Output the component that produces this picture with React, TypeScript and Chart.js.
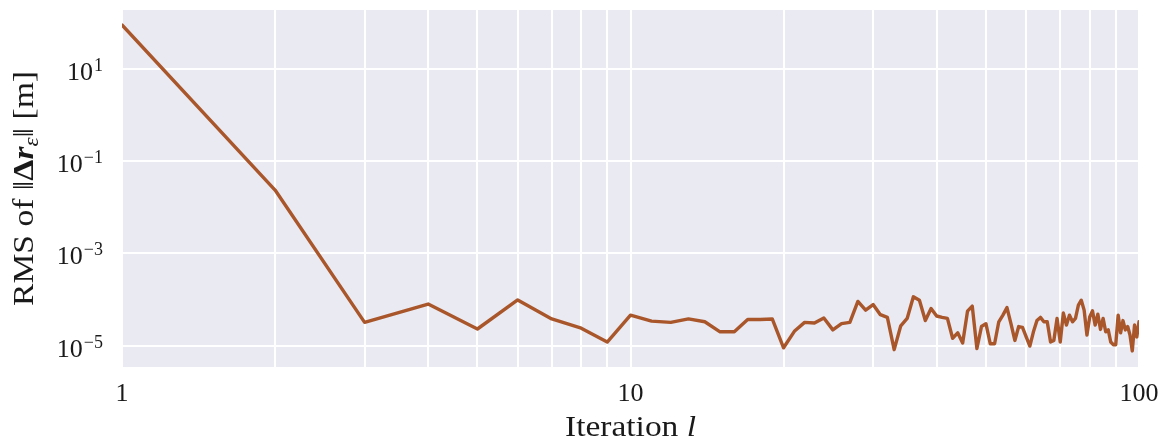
import { useEffect, useRef } from 'react';
import { Chart, registerables } from 'chart.js';

Chart.register(...registerables);

// Iteration index l (x axis)
const iterations = [
  1, 2, 3, 4, 5, 6, 7, 8, 9, 10,
  11, 12, 13, 14, 15, 16, 17, 18, 19, 20,
  21, 22, 23, 24, 25, 26, 27, 28, 29, 30,
  31, 32, 33, 34, 35, 36, 37, 38, 39, 40,
  41, 42, 43, 44, 45, 46, 47, 48, 49, 50,
  51, 52, 53, 54, 55, 56, 57, 58, 59, 60,
  61, 62, 63, 64, 65, 66, 67, 68, 69, 70,
  71, 72, 73, 74, 75, 76, 77, 78, 79, 80,
  81, 82, 83, 84, 85, 86, 87, 88, 89, 90,
  91, 92, 93, 94, 95, 96, 97, 98, 99, 100,
];

// RMS of ||Δr_ε|| [m]
const rmsError = [
  90, 0.0237, 3.2e-5, 8.0e-5, 2.3e-5, 9.8e-5, 3.8e-5, 2.4e-5, 1.2e-5, 4.6e-5,
  3.4e-5, 3.2e-5, 3.8e-5, 3.3e-5, 2.0e-5, 2.0e-5, 3.7e-5, 3.7e-5, 3.8e-5, 9.0e-6,
  2.05e-5, 3.2e-5, 3.1e-5, 4.0e-5, 2.2e-5, 3.0e-5, 3.2e-5, 9.1e-5, 5.9e-5, 7.8e-5,
  4.7e-5, 4.1e-5, 8.2e-6, 2.7e-5, 3.9e-5, 1.15e-4, 9.7e-5, 3.5e-5, 6.4e-5, 4.4e-5,
  4.1e-5, 3.9e-5, 1.45e-5, 1.9e-5, 1.15e-5, 5.6e-5, 7.2e-5, 8.7e-6, 2.6e-5, 3.0e-5,
  1.1e-5, 1.1e-5, 3.3e-5, 4.6e-5, 6.7e-5, 3.0e-5, 1.3e-5, 2.6e-5, 2.5e-5, 1.55e-5,
  9.8e-6, 2.0e-5, 3.5e-5, 4.1e-5, 3.3e-5, 3.3e-5, 1.2e-5, 1.3e-5, 3.9e-5, 1.2e-5,
  5.1e-5, 2.8e-5, 4.6e-5, 3.3e-5, 3.9e-5, 7.6e-5, 9.7e-5, 5.9e-5, 1.7e-5, 4.2e-5,
  5.7e-5, 2.8e-5, 4.8e-5, 2.25e-5, 3.9e-5, 2.0e-5, 2.2e-5, 1.2e-5, 1.05e-5, 1.05e-5,
  4.6e-5, 1.9e-5, 3.5e-5, 2.2e-5, 2.6e-5, 1.7e-5, 7.7e-6, 2.8e-5, 1.55e-5, 3.3e-5,
];

// Axis ticks
const xTickValues = [1, 2, 3, 4, 5, 6, 7, 8, 9, 10, 20, 30, 40, 50, 60, 70, 80, 90, 100];
const xLabelValues = [1, 10, 100];
const xLabelTexts = ['1', '10', '100'];
const yTickValues = [1e-5, 1e-3, 1e-1, 1e1];
const yTickBase = '10';
const yTickExponents = ['\u22125', '\u22123', '\u22121', '1'];
const xRange = [1, 100];
const yRange = [3.45e-6, 190];

const xTitleParts = ['Iteration ', 'l'];
const yTitleParts = ['RMS of \u2016', '\u0394', 'r', '\u03b5', '\u2016 [m]'];

const SERIF = "'Liberation Serif', 'DejaVu Serif', serif";
const TEXT = '#1a1a1a';

function drawParts(ctx: any, parts: string[], styles: { f: string; dy: number }[], cx: number, targetWidth: number) {
  let total = 0;
  const widths = parts.map((t, i) => {
    ctx.font = styles[i].f;
    const w = ctx.measureText(t).width;
    total += w;
    return w;
  });
  const k = targetWidth / total;
  ctx.save();
  ctx.translate(cx, 0);
  ctx.scale(k, 1);
  let px = -total / 2;
  parts.forEach((t, i) => {
    ctx.font = styles[i].f;
    ctx.fillText(t, px, styles[i].dy);
    px += widths[i];
  });
  ctx.restore();
}

const decorPlugin = {
  id: 'decor',
  beforeDraw(chart: any) {
    const { ctx, chartArea: a } = chart;
    ctx.save();
    ctx.fillStyle = '#eaeaf2';
    ctx.fillRect(a.left, a.top, a.right - a.left, a.bottom - a.top);
    ctx.restore();
  },
  afterDraw(chart: any) {
    const { ctx, chartArea: a } = chart;
    const ys = chart.scales.y;
    ctx.save();
    ctx.fillStyle = TEXT;
    ctx.textBaseline = 'alphabetic';
    ctx.textAlign = 'left';

    // y tick labels with superscript exponents
    const right = a.left - 19;
    yTickValues.forEach((v, i) => {
      const py = ys.getPixelForValue(v);
      ctx.textAlign = 'right';
      ctx.font = `18px ${SERIF}`;
      const ew = ctx.measureText(yTickExponents[i]).width;
      ctx.fillText(yTickExponents[i], right, py + 2);
      ctx.font = `26px ${SERIF}`;
      ctx.fillText(yTickBase, right - ew - 1, py + 11);
    });
    ctx.textAlign = 'left';

    // x title
    ctx.save();
    ctx.translate(0, 436);
    drawParts(
      ctx,
      xTitleParts,
      [
        { f: `29px ${SERIF}`, dy: 0 },
        { f: `italic 29px ${SERIF}`, dy: 0 },
      ],
      (a.left + a.right) / 2,
      131
    );
    ctx.restore();

    // y title (rotated)
    ctx.save();
    ctx.translate(33, 0);
    ctx.rotate(-Math.PI / 2);
    drawParts(
      ctx,
      yTitleParts,
      [
        { f: `29px ${SERIF}`, dy: 0 },
        { f: `bold 29px ${SERIF}`, dy: 0 },
        { f: `italic bold 29px ${SERIF}`, dy: 0 },
        { f: `italic 20px ${SERIF}`, dy: 5 },
        { f: `29px ${SERIF}`, dy: 0 },
      ],
      -(a.top + a.bottom) / 2,
      235
    );
    ctx.restore();
    ctx.restore();
  },
};

export default function App() {
  const ref = useRef<HTMLCanvasElement | null>(null);

  useEffect(() => {
    if (!ref.current) return;
    const chart = new Chart(ref.current, {
      type: 'line',
      data: {
        datasets: [
          {
            data: iterations.map((x, i) => ({ x, y: rmsError[i] })),
            borderColor: '#a9562b',
            borderWidth: 3.4,
            borderJoinStyle: 'round',
            borderCapStyle: 'round',
            pointRadius: 0,
            tension: 0,
            fill: false,
          },
        ],
      },
      options: {
        animation: false,
        responsive: true,
        maintainAspectRatio: false,
        layout: { padding: { top: 10, right: 28, left: 0, bottom: 0 } },
        plugins: { legend: { display: false }, tooltip: { enabled: false } },
        scales: {
          x: {
            type: 'logarithmic',
            min: xRange[0],
            max: xRange[1],
            afterBuildTicks: (scale: any) => {
              scale.ticks = xTickValues.map((v) => ({ value: v }));
            },
            afterFit: (scale: any) => {
              scale.height = 72;
              scale.paddingRight = 0;
              scale.paddingLeft = 0;
            },
            ticks: {
              autoSkip: false,
              maxRotation: 0,
              padding: 12,
              color: TEXT,
              font: { family: SERIF, size: 26 },
              callback: (v: any) => {
                const k = xLabelValues.indexOf(Number(v));
                return k >= 0 ? xLabelTexts[k] : '';
              },
            },
            grid: { color: '#ffffff', lineWidth: 2, drawTicks: false },
            border: { display: false },
          },
          y: {
            type: 'logarithmic',
            min: yRange[0],
            max: yRange[1],
            afterBuildTicks: (scale: any) => {
              scale.ticks = yTickValues.map((v) => ({ value: v }));
            },
            afterFit: (scale: any) => {
              scale.width = 122;
              scale.paddingTop = 0;
              scale.paddingBottom = 0;
            },
            ticks: { display: false },
            grid: { color: '#ffffff', lineWidth: 2, drawTicks: false },
            border: { display: false },
          },
        },
      },
      plugins: [decorPlugin],
    } as any);
    return () => chart.destroy();
  }, []);

  return (
    <div style={{ position: 'fixed', left: 0, top: 0, width: 1167, height: 439, background: '#ffffff' }}>
      <canvas ref={ref} />
    </div>
  );
}
